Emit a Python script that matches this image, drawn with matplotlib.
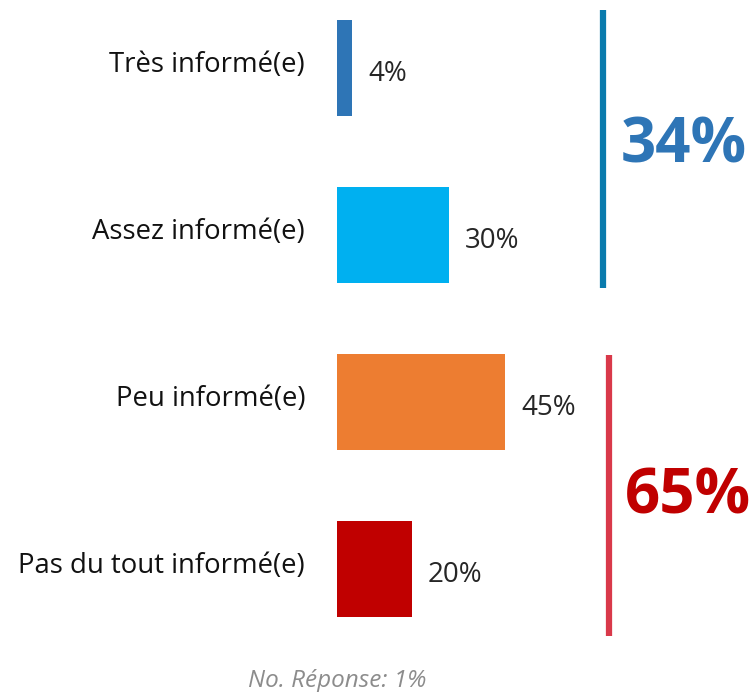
import matplotlib

matplotlib.use("Agg")
import matplotlib.pyplot as plt

plt.rcParams["font.family"] = ["Open Sans", "DejaVu Sans"]

# ---------------------------------------------------------------------------
# Data
# ---------------------------------------------------------------------------
categories = ["Très informé(e)", "Assez informé(e)", "Peu informé(e)",
              "Pas du tout informé(e)"]
values = [4, 30, 45, 20]
bar_colors = ["#2E75B6", "#00B0F0", "#ED7D31", "#C00000"]

groups = [(0, 1), (2, 3)]          # category index ranges
group_totals = ["34%", "65%"]
group_text_colors = ["#2E75B6", "#C00000"]
group_line_colors = ["#0A7BAD", "#D9394A"]
footnote = "No. Réponse: 1%"

W, H = 756, 692
fig = plt.figure(figsize=(W / 100, H / 100), dpi=100)

# axes covers x from the bar baseline to the right edge, full height
x0 = 337
px_per_pct = 3.73
step = 167
first_center = 68
ax = fig.add_axes([x0 / W, 0, 1 - x0 / W, 1])
ax.set_xlim(0, (W - x0) / px_per_pct)
ax.set_ylim((H - first_center) / step, -first_center / step)
ax.axis("off")

ypos = list(range(len(categories)))
ax.barh(ypos, values, height=0.575, color=bar_colors)

for y, v, lab in zip(ypos, values, categories):
    ax.text(v + 4.3, y + 0.035, f"{v}%", va="center", ha="left",
            fontsize=20, color="#262626")
    ax.annotate(lab, xy=(0, y), xytext=(-23, 2), textcoords="offset points",
                ha="right", va="center", fontsize=19.8, color="#111111",
                annotation_clip=False)

# group brackets and totals
line_x = [71.3, 72.9]
text_x = [76.0, 77.2]
text_dy = [-0.03, 0.07]
pads = [(-0.35, 0.32), (-0.28, 0.40)]
for (a, b), tot, tc, lc, lx, tx, dy, (pa, pb) in zip(
        groups, group_totals, group_text_colors, group_line_colors,
        line_x, text_x, text_dy, pads):
    ax.plot([lx, lx], [a + pa, b + pb], color=lc, lw=4.5,
            solid_capstyle="butt")
    ax.text(tx, (a + b) / 2 + dy, tot, ha="left", va="center",
            fontsize=44.5, fontweight="bold", color=tc)

fig.text(x0 / W, 1 - 681 / H, footnote, ha="center", va="center",
         fontsize=17.5, style="italic", color="#8C8C8C")

fig.savefig("out.png", dpi=100)
